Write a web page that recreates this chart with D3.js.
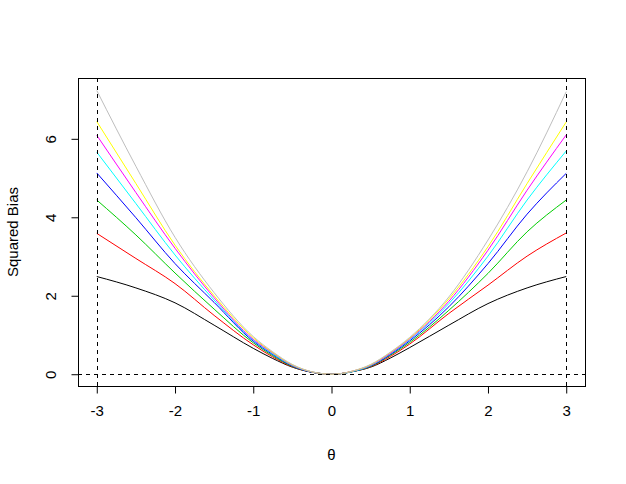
<!DOCTYPE html>
<html>
<head>
<meta charset="utf-8">
<script src="https://cdn.jsdelivr.net/npm/d3@7"></script>
<style>
  body { margin: 0; background: #fff; }
  text { font-family: "Liberation Sans", Arial, sans-serif; }
</style>
</head>
<body>
<div id="chart"></div>
<script>
let theta = [-3, -2.5, -2, -1.5, -1, -0.75, -0.5, -0.25, -0.1, 0, 0.1, 0.25, 0.5, 0.75, 1, 1.5, 2, 2.5, 3];

let sBlack   = [2.49, 2.20, 1.82, 1.25, 0.66, 0.40, 0.18, 0.05, 0.01, 0, 0.01, 0.06, 0.18, 0.41, 0.68, 1.25, 1.80, 2.20, 2.49];
let sRed     = [3.59, 2.95, 2.31, 1.50, 0.75, 0.44, 0.19, 0.05, 0.01, 0, 0.01, 0.06, 0.19, 0.45, 0.77, 1.55, 2.27, 3.01, 3.60];
let sGreen   = [4.44, 3.55, 2.58, 1.66, 0.80, 0.47, 0.20, 0.05, 0.01, 0, 0.01, 0.06, 0.20, 0.48, 0.81, 1.63, 2.57, 3.63, 4.44];
let sBlue    = [5.13, 3.99, 2.82, 1.83, 0.84, 0.50, 0.21, 0.05, 0.01, 0, 0.01, 0.06, 0.21, 0.50, 0.85, 1.72, 2.82, 4.08, 5.12];
let sCyan    = [5.66, 4.35, 3.04, 1.89, 0.87, 0.52, 0.22, 0.06, 0.01, 0, 0.01, 0.06, 0.22, 0.52, 0.88, 1.80, 3.01, 4.44, 5.69];
let sMagenta = [6.09, 4.63, 3.21, 1.95, 0.89, 0.54, 0.23, 0.06, 0.01, 0, 0.01, 0.07, 0.23, 0.53, 0.90, 1.86, 3.16, 4.69, 6.10];
let sYellow  = [6.44, 4.86, 3.29, 2.00, 0.93, 0.55, 0.24, 0.06, 0.01, 0, 0.01, 0.07, 0.24, 0.55, 0.92, 1.92, 3.25, 4.86, 6.43];
let sGray    = [7.23, 5.30, 3.49, 2.08, 0.96, 0.57, 0.25, 0.06, 0.01, 0, 0.01, 0.07, 0.25, 0.56, 0.94, 1.97, 3.42, 5.16, 7.20];

let seriesList = [sBlack, sRed, sGreen, sBlue, sCyan, sMagenta, sYellow, sGray];
let colors = ["#000000", "#FF0000", "#00CD00", "#0000FF", "#00FFFF", "#FF00FF", "#FFFF00", "#BEBEBE"];

let xTicks = [-3, -2, -1, 0, 1, 2, 3];
let yTicks = [0, 2, 4, 6];

const width = 626, height = 484;
const pLeft = 78, pRight = 585, pTop = 78, pBottom = 386;
const fontSize = 15;

let svg = d3.select("#chart")
  .append("svg")
    .attr("width", width)
    .attr("height", height);

let x = d3.scaleLinear().domain([-3.24, 3.24]).range([pLeft, pRight]);
let y = d3.scaleLinear().domain([-0.3, 7.55]).range([pBottom, pTop]);

// clip to plot region so the dashed lines stop at the box
svg.append("clipPath").attr("id", "plotclip")
  .append("rect")
    .attr("x", pLeft).attr("y", pTop)
    .attr("width", pRight - pLeft).attr("height", pBottom - pTop);

let plot = svg.append("g").attr("clip-path", "url(#plotclip)");

let line = d3.line()
  .x((d, i) => x(theta[i]))
  .y(d => y(d))
  .curve(d3.curveMonotoneX);

seriesList.forEach(function(s, k) {
  plot.append("path")
    .datum(s)
    .attr("d", line)
    .attr("fill", "none")
    .attr("stroke", colors[k])
    .attr("stroke-width", 1);
});

// dashed reference lines
let y0 = Math.round(y(0)) + 0.5;
plot.append("line")
  .attr("x1", pLeft).attr("x2", pRight)
  .attr("y1", y0).attr("y2", y0)
  .attr("stroke", "#000").attr("stroke-dasharray", "4,4");
[-3, 3].forEach(function(v) {
  let xv = Math.round(x(v)) + 0.5;
  plot.append("line")
    .attr("x1", xv).attr("x2", xv)
    .attr("y1", pTop).attr("y2", pBottom)
    .attr("stroke", "#000").attr("stroke-dasharray", "4,4");
});

// box
svg.append("rect")
  .attr("x", pLeft + 0.5).attr("y", pTop + 0.5)
  .attr("width", pRight - pLeft).attr("height", pBottom - pTop)
  .attr("fill", "none").attr("stroke", "#000");

// x axis
let xAxis = d3.axisBottom(x).tickValues(xTicks).tickSize(7).tickPadding(12)
  .tickFormat(d => d < 0 ? "-" + Math.abs(d) : d);
let gx = svg.append("g")
  .attr("transform", "translate(0," + (pBottom + 0.5) + ")")
  .call(xAxis);
gx.select(".domain").attr("d", "M" + x(-3) + ",0H" + x(3));
gx.selectAll("text")
  .attr("font-size", fontSize).attr("fill", "#000")
  .attr("font-family", "Liberation Sans, Arial, sans-serif");

// y axis, labels parallel to the axis like base R
let yAxis = d3.axisLeft(y).tickValues(yTicks).tickSize(7);
let gy = svg.append("g")
  .attr("transform", "translate(" + (pLeft + 0.5) + ",0)")
  .call(yAxis);
gy.select(".domain").attr("d", "M0," + y(0) + "V" + y(6));
gy.selectAll(".tick text")
  .attr("font-size", fontSize).attr("fill", "#000")
  .attr("font-family", "Liberation Sans, Arial, sans-serif")
  .attr("text-anchor", "middle")
  .attr("x", 0).attr("y", 0).attr("dy", null)
  .attr("transform", "translate(-23,0) rotate(-90)");

// axis titles
svg.append("text")
  .attr("x", (pLeft + pRight) / 2)
  .attr("y", 460)
  .attr("text-anchor", "middle")
  .attr("font-size", fontSize)
  .text("θ");

svg.append("text")
  .attr("transform", "translate(18," + ((pTop + pBottom) / 2) + ") rotate(-90)")
  .attr("text-anchor", "middle")
  .attr("font-size", fontSize)
  .text("Squared Bias");
</script>
</body>
</html>
